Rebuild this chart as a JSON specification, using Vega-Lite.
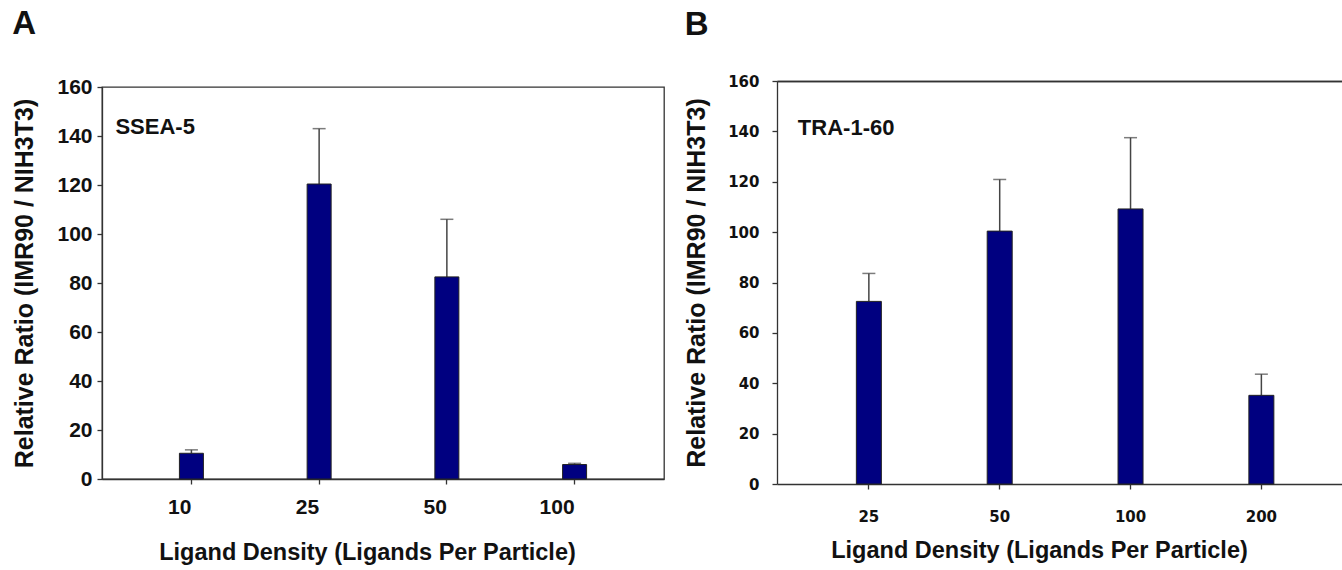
{
  "$schema": "https://vega.github.io/schema/vega-lite/v6.json",
  "background": "white",
  "padding": {"left": 12, "top": 8, "right": 0, "bottom": 0},
  "spacing": 19,
  "config": {
    "font": "Liberation Sans",
    "view": {"stroke": "#333333", "strokeWidth": 1.3},
    "axis": {
      "grid": false,
      "labelFont": "Liberation Sans",
      "labelFontWeight": "bold",
      "labelColor": "#111111",
      "titleFont": "Liberation Sans",
      "titleFontWeight": "bold",
      "titleColor": "#111111",
      "titleFontSize": 25,
      "domainColor": "#333333",
      "domainWidth": 1.3,
      "tickColor": "#333333",
      "tickWidth": 1.3,
      "tickSize": 5
    },
    "title": {"font": "Liberation Sans", "fontWeight": "bold", "fontSize": 33, "color": "#111111", "anchor": "start", "frame": "bounds"}
  },
  "hconcat": [
    {
      "title": {"text": "A", "offset": 28},
      "spacing": 0,
      "vconcat": [
        {
          "width": 562,
          "height": 6,
          "view": {"stroke": null},
          "data": {"values": []},
          "mark": {"type": "point", "opacity": 0}
        },
        {
          "width": 562,
          "height": 392,
          "data": {"values": [
            {"density": "10", "ratio": 10.5, "upper": 11.9},
            {"density": "25", "ratio": 120.4, "upper": 143.0},
            {"density": "50", "ratio": 82.5, "upper": 106.0},
            {"density": "100", "ratio": 5.9, "upper": 6.4}
          ]},
          "layer": [
            {
              "mark": {"type": "rule", "color": "#444444", "strokeWidth": 1.5},
              "encoding": {
                "x": {"field": "density", "type": "ordinal", "sort": null},
                "y": {"field": "ratio", "type": "quantitative"},
                "y2": {"field": "upper"}
              }
            },
            {
              "mark": {"type": "tick", "color": "#444444", "orient": "horizontal", "size": 13, "thickness": 1.5},
              "encoding": {
                "x": {"field": "density", "type": "ordinal", "sort": null},
                "y": {"field": "upper", "type": "quantitative"}
              }
            },
            {
              "mark": {"type": "bar", "fill": "#000080", "stroke": "#222222", "strokeWidth": 1, "width": 24},
              "encoding": {
                "x": {
                  "field": "density", "type": "ordinal", "sort": null,
                  "scale": {"paddingInner": 0, "paddingOuter": 0.2},
                  "axis": {"labelAngle": 0, "labelFontSize": 21, "labelPadding": 23, "title": "Ligand Density (Ligands Per Particle)", "titleFontSize": 23.5, "titlePadding": 23, "titleX": 265}
                },
                "y": {
                  "field": "ratio", "type": "quantitative",
                  "scale": {"domain": [0, 160], "nice": false},
                  "axis": {"values": [0, 20, 40, 60, 80, 100, 120, 140, 160], "labelFontSize": 21, "labelPadding": 5, "title": "Relative Ratio (IMR90 / NIH3T3)", "titlePadding": 19}
                }
              }
            },
            {
              "data": {"values": [{"label": "SSEA-5", "density": "10", "pos": 143.5}]},
              "mark": {"type": "text", "align": "left", "baseline": "middle", "fontSize": 22, "fontWeight": "bold", "font": "Liberation Sans", "color": "#111111", "dx": -76},
              "encoding": {
                "x": {"field": "density", "type": "ordinal", "sort": null},
                "y": {"field": "pos", "type": "quantitative"},
                "text": {"field": "label"}
              }
            }
          ]
        }
      ]
    },
    {
      "title": {"text": "B", "offset": 27},
      "spacing": 0,
      "vconcat": [
        {
          "width": 566,
          "height": 5,
          "view": {"stroke": null},
          "data": {"values": []},
          "mark": {"type": "point", "opacity": 0}
        },
        {
          "width": 566,
          "height": 403,
          "view": {"stroke": null},
          "data": {"values": [
            {"density": "25", "ratio": 72.5, "upper": 83.6},
            {"density": "50", "ratio": 100.4, "upper": 120.9},
            {"density": "100", "ratio": 109.2, "upper": 137.5},
            {"density": "200", "ratio": 35.2, "upper": 43.6}
          ]},
          "layer": [
            {
              "mark": {"type": "rule", "color": "#444444", "strokeWidth": 1.5},
              "encoding": {
                "x": {"field": "density", "type": "ordinal", "sort": null, "axis": {"orient": "top", "labels": false, "ticks": false, "title": null}},
                "y": {"field": "ratio", "type": "quantitative"},
                "y2": {"field": "upper"}
              }
            },
            {
              "mark": {"type": "tick", "color": "#444444", "orient": "horizontal", "size": 13, "thickness": 1.5},
              "encoding": {
                "x": {"field": "density", "type": "ordinal", "sort": null, "axis": {"orient": "top", "labels": false, "ticks": false, "title": null}},
                "y": {"field": "upper", "type": "quantitative"}
              }
            },
            {
              "mark": {"type": "bar", "fill": "#000080", "stroke": "#222222", "strokeWidth": 1, "width": 25},
              "encoding": {
                "x": {
                  "field": "density", "type": "ordinal", "sort": null,
                  "scale": {"paddingInner": 0, "paddingOuter": 0.163, "align": 0.62},
                  "axis": {"orient": "bottom", "labelAngle": 0, "labelFont": "DejaVu Sans", "labelFontSize": 15, "labelPadding": 20, "title": "Ligand Density (Ligands Per Particle)", "titleFontSize": 23.5, "titlePadding": 14, "titleX": 262}
                },
                "y": {
                  "field": "ratio", "type": "quantitative",
                  "scale": {"domain": [0, 160], "nice": false},
                  "axis": {"values": [0, 20, 40, 60, 80, 100, 120, 140, 160], "labelFont": "DejaVu Sans", "labelFontSize": 15, "labelPadding": 13, "title": "Relative Ratio (IMR90 / NIH3T3)", "titlePadding": 18}
                }
              }
            },
            {
              "data": {"values": [{"label": "TRA-1-60", "density": "25", "pos": 141.3}]},
              "mark": {"type": "text", "align": "left", "baseline": "middle", "fontSize": 22, "fontWeight": "bold", "font": "Liberation Sans", "color": "#111111", "dx": -71},
              "encoding": {
                "x": {"field": "density", "type": "ordinal", "sort": null, "axis": null},
                "y": {"field": "pos", "type": "quantitative"},
                "text": {"field": "label"}
              }
            }
          ]
        }
      ]
    }
  ]
}
